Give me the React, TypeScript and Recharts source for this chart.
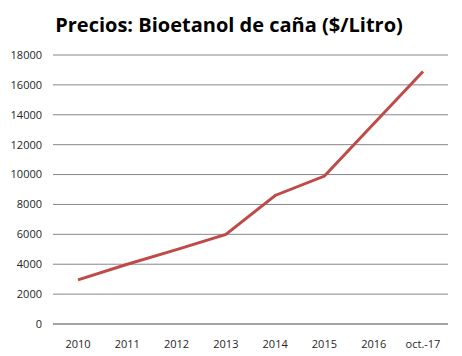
import { CartesianGrid, Line, LineChart, XAxis, YAxis } from "recharts";

const CATEGORIES = ["2010", "2011", "2012", "2013", "2014", "2015", "2016", "oct.-17"];
const PRICES = [2950, 4000, 4980, 6000, 8600, 9900, 13400, 16900];
const Y_TICKS = [0, 2000, 4000, 6000, 8000, 10000, 12000, 14000, 16000, 18000];

const data = CATEGORIES.map((name, i) => ({ name, value: PRICES[i] }));

const tickStyle = { fill: "#262626", fontSize: 11, fontFamily: "Open Sans" };

export default function App() {
  return (
    <div style={{ position: "absolute", left: 0, top: 0, width: 462, height: 356, background: "#fff" }}>
      <div
        style={{
          position: "absolute",
          left: 0,
          top: 10,
          width: 458,
          textAlign: "center",
          fontFamily: "Open Sans",
          fontWeight: 700,
          fontSize: 20,
          color: "#000",
          lineHeight: "30px",
        }}
      >
        Precios: Bioetanol de caña ($/Litro)
      </div>
      <LineChart width={462} height={356} data={data} margin={{ top: 55, right: 14, bottom: 2, left: 0 }}>
        <CartesianGrid vertical={false} stroke="#878787" />
        <XAxis
          dataKey="name"
          padding={{ left: 25, right: 25 }}
          tick={tickStyle}
          tickLine={false}
          axisLine={{ stroke: "#878787" }}
          tickMargin={10}
          height={30}
          interval={0}
        />
        <YAxis
          domain={[0, 18000]}
          ticks={Y_TICKS}
          width={53}
          tick={tickStyle}
          tickLine={false}
          axisLine={false}
          tickMargin={5}
          interval={0}
        />
        <Line
          type="linear"
          dataKey="value"
          stroke="#BE4B48"
          strokeWidth={3}
          dot={false}
          isAnimationActive={false}
        />
      </LineChart>
    </div>
  );
}
